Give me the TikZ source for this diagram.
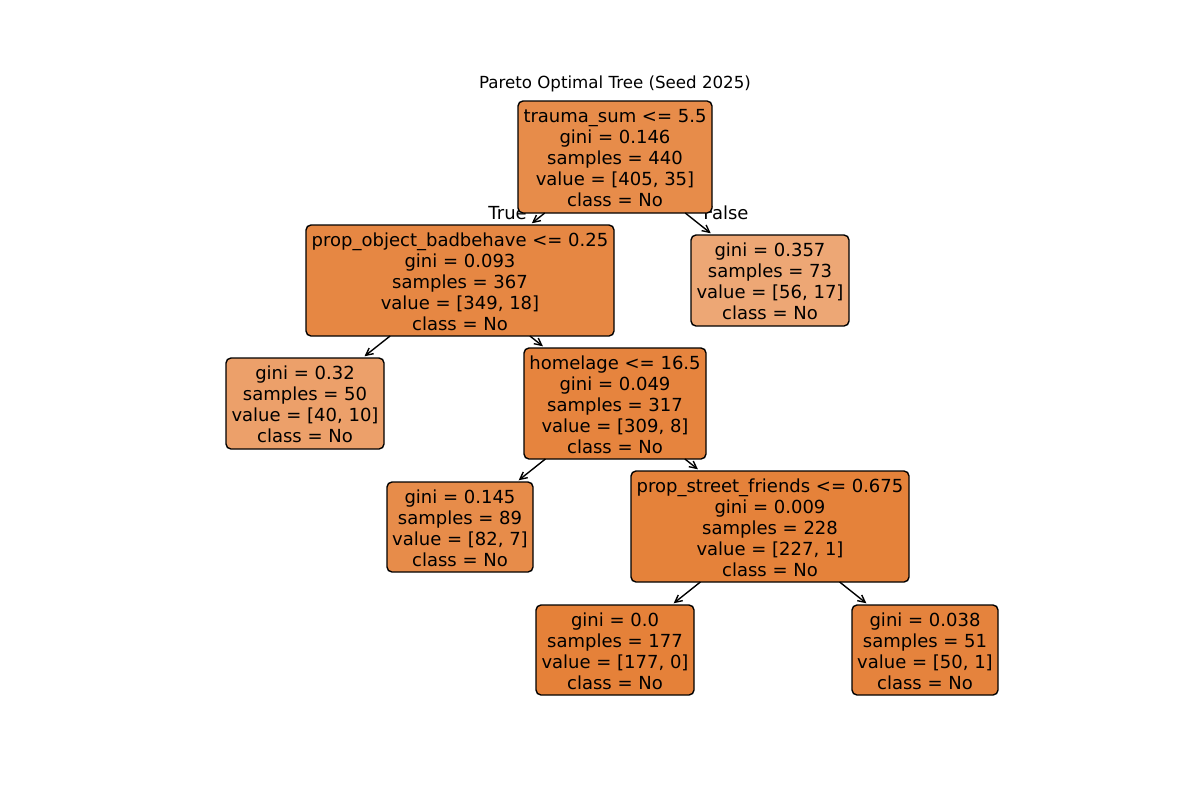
\documentclass[tikz,border=0pt]{standalone}
\usepackage{fontspec}
\setmainfont{DejaVu Sans}
\usetikzlibrary{arrows.meta}
\definecolor{cA}{RGB}{231,140,74}
\definecolor{cB}{RGB}{230,135,67}
\definecolor{cC}{RGB}{237,167,117}
\definecolor{cD}{RGB}{236,160,106}
\definecolor{cE}{RGB}{230,132,62}
\definecolor{cF}{RGB}{229,130,58}
\definecolor{cG}{RGB}{229,129,57}
\definecolor{cH}{RGB}{229,131,61}
\newcommand{\topstrut}{\rule{0pt}{11.3pt}}
\tikzset{
  treenode/.style={draw=black, line width=1pt, rounded corners=3.6pt, align=center,
    inner sep=0pt, outer sep=0pt, font=\fontsize{12.96}{15.12}\selectfont},
  edgelabel/.style={font=\fontsize{12.96}{15.12}\selectfont, inner sep=0pt},
  treearrow/.style={line width=1pt, -{Straight Barb[length=5.2pt,width=5.2pt]}, shorten >=2pt}
}
\begin{document}
\begin{tikzpicture}[x=0.72pt,y=-0.72pt]
\useasboundingbox (0,0) rectangle (1200,800);
\node[font=\fontsize{12}{14}\selectfont, inner sep=0pt] (title) at (615,83.5) {Pareto Optimal Tree (Seed 2025)};
\node[edgelabel, anchor=base east] (lt) at (527,219) {True};
\node[edgelabel, anchor=base west] (lf) at (703,219) {False};
\node[treenode, fill=cA, minimum width={194*0.72pt}, minimum height={112*0.72pt}] (n0) at (615,157)
  {\topstrut trauma\_sum <= 5.5\\gini = 0.146\\samples = 440\\value = [405, 35]\\class = No};
\node[treenode, fill=cB, minimum width={308*0.72pt}, minimum height={111*0.72pt}] (n1) at (460,280.5)
  {\topstrut prop\_object\_badbehave <= 0.25\\gini = 0.093\\samples = 367\\value = [349, 18]\\class = No};
\node[treenode, fill=cC, minimum width={158*0.72pt}, minimum height={91*0.72pt}] (n2) at (770,280.5)
  {\topstrut gini = 0.357\\samples = 73\\value = [56, 17]\\class = No};
\node[treenode, fill=cD, minimum width={158*0.72pt}, minimum height={91*0.72pt}] (n3) at (305,403.5)
  {\topstrut gini = 0.32\\samples = 50\\value = [40, 10]\\class = No};
\node[treenode, fill=cE, minimum width={182*0.72pt}, minimum height={111*0.72pt}] (n4) at (615,403.5)
  {\topstrut homelage <= 16.5\\gini = 0.049\\samples = 317\\value = [309, 8]\\class = No};
\node[treenode, fill=cA, minimum width={146*0.72pt}, minimum height={90*0.72pt}] (n5) at (460,527)
  {\topstrut gini = 0.145\\samples = 89\\value = [82, 7]\\class = No};
\node[treenode, fill=cF, minimum width={278*0.72pt}, minimum height={111*0.72pt}] (n6) at (770,526.5)
  {\topstrut prop\_street\_friends <= 0.675\\gini = 0.009\\samples = 228\\value = [227, 1]\\class = No};
\node[treenode, fill=cG, minimum width={158*0.72pt}, minimum height={90*0.72pt}] (n7) at (615,650)
  {\topstrut gini = 0.0\\samples = 177\\value = [177, 0]\\class = No};
\node[treenode, fill=cH, minimum width={146*0.72pt}, minimum height={90*0.72pt}] (n8) at (925,650)
  {\topstrut gini = 0.038\\samples = 51\\value = [50, 1]\\class = No};
\draw[treearrow] (n0) -- (n1);
\draw[treearrow] (n0) -- (n2);
\draw[treearrow] (n1) -- (n3);
\draw[treearrow] (n1) -- (n4);
\draw[treearrow] (n4) -- (n5);
\draw[treearrow] (n4) -- (n6);
\draw[treearrow] (n6) -- (n7);
\draw[treearrow] (n6) -- (n8);
\end{tikzpicture}
\end{document}
